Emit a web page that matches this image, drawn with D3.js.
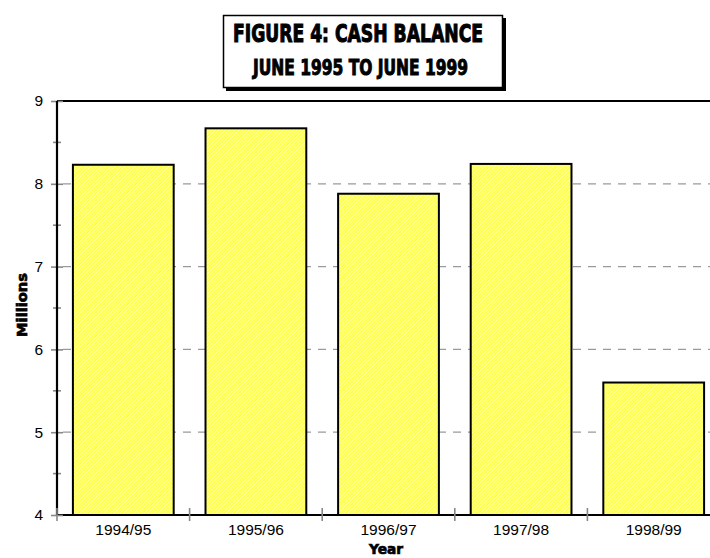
<!DOCTYPE html>
<html>
<head>
<meta charset="utf-8">
<script src="https://cdn.jsdelivr.net/npm/d3@7"></script>
<style>
  body { margin: 0; background: #fff; }
</style>
</head>
<body>
<div class="chart"></div>
<script>
    /* data */
    const years = ["1994/95", "1995/96", "1996/97", "1997/98", "1998/99"];
    const cash = [8.23, 8.67, 7.88, 8.24, 5.60];
    const yTicks = [4, 5, 6, 7, 8, 9];
    const yMinor = [4.5, 5.5, 6.5, 7.5, 8.5];

    let margin = {top: 101, bottom: 43, left: 57, right: -10};
    const width = 710 - margin.left - margin.right,
    height = 558 - margin.top - margin.bottom;

    const root = d3.select(".chart").append("svg")
    .attr("width", 710)
    .attr("height", 558);

    /* hatched yellow fill */
    const pat = root.append("defs").append("pattern")
    .attr("id", "hatch")
    .attr("patternUnits", "userSpaceOnUse")
    .attr("width", 2.4).attr("height", 2.4)
    .attr("patternTransform", "rotate(45)");
    pat.append("rect").attr("width", 2.4).attr("height", 2.4).attr("fill", "#ffff40");
    pat.append("rect").attr("width", 1).attr("height", 2.4).attr("fill", "#ffffa0");

    /* title box */
    const tb = root.append("g");
    tb.append("rect")
    .attr("x", 226).attr("y", 18).attr("width", 280).attr("height", 73)
    .attr("fill", "#000");
    tb.append("rect")
    .attr("x", 223.5).attr("y", 15.5).attr("width", 279).attr("height", 72)
    .attr("fill", "#fff").attr("stroke", "#000").attr("stroke-width", 1.5);
    tb.append("text")
    .attr("x", 233).attr("y", 42)
    .attr("textLength", 250).attr("lengthAdjust", "spacingAndGlyphs")
    .style("font-family", "'DejaVu Sans Condensed', 'DejaVu Sans', sans-serif")
    .style("font-weight", "bold").style("font-size", "24px")
    .attr("stroke", "#000").attr("stroke-width", 1)
    .text("FIGURE 4: CASH BALANCE");
    tb.append("text")
    .attr("x", 253).attr("y", 75)
    .attr("textLength", 215).attr("lengthAdjust", "spacingAndGlyphs")
    .style("font-family", "'DejaVu Sans Condensed', 'DejaVu Sans', sans-serif")
    .style("font-weight", "bold").style("font-size", "21px")
    .attr("stroke", "#000").attr("stroke-width", 0.9)
    .text("JUNE 1995 TO JUNE 1999");

    const svg = root.append("g")
    .attr("transform", "translate(" + margin.left + "," + margin.top + ")");

    /* scales */
    const xScale = d3.scaleBand().range([0, width])
    .domain(years)
    .paddingInner(0.24)
    .paddingOuter(0.12);

    const yScale = d3.scaleLinear().range([height, 0])
    .domain([4, 9]);

    /* dashed grid */
    svg.selectAll(".grid")
    .data(yTicks.filter(d => d > 4 && d < 9))
    .enter().append("line")
    .attr("class", "grid")
    .attr("x1", 6).attr("x2", width)
    .attr("y1", d => yScale(d)).attr("y2", d => yScale(d))
    .attr("stroke", "#9a9a9a").attr("stroke-width", 1.2)
    .attr("stroke-dasharray", "8,7");

    /* frame lines */
    svg.append("line")
    .attr("x1", 0).attr("x2", width).attr("y1", 0).attr("y2", 0)
    .attr("stroke", "#000").attr("stroke-width", 2);
    svg.append("line")
    .attr("x1", 0).attr("x2", width).attr("y1", height).attr("y2", height)
    .attr("stroke", "#000").attr("stroke-width", 2);

    /* bars */
    svg.selectAll("rect.bar")
    .data(cash)
    .enter().append("rect")
    .attr("class", "bar")
    .attr("x", (d, i) => xScale(years[i]))
    .attr("y", d => yScale(d))
    .attr("width", xScale.bandwidth())
    .attr("height", d => height - yScale(d))
    .attr("fill", "url(#hatch)")
    .attr("stroke", "#000")
    .attr("stroke-width", 2);

    /* y axis */
    const yAxis = d3.axisLeft(yScale).tickValues(yTicks)
    .tickFormat(d3.format("d")).tickSize(6).tickPadding(8);
    const ya = svg.append("g").attr("class", "axis-y-axis").call(yAxis);
    ya.select(".domain").remove();
    ya.selectAll(".tick line")
    .attr("x1", -6).attr("x2", 6)
    .attr("stroke", "#888").attr("stroke-width", 1.6);
    ya.selectAll(".tick text")
    .style("font-family", "'Liberation Sans', Arial, sans-serif")
    .style("font-size", "15.5px").attr("fill", "#000");

    svg.selectAll(".minor")
    .data(yMinor)
    .enter().append("line")
    .attr("class", "minor")
    .attr("x1", -4).attr("x2", 4)
    .attr("y1", d => yScale(d)).attr("y2", d => yScale(d))
    .attr("stroke", "#888").attr("stroke-width", 1.6);

    svg.append("line")
    .attr("x1", 0).attr("x2", 0).attr("y1", 0).attr("y2", height)
    .attr("stroke", "#000").attr("stroke-width", 2.2);

    /* category separators */
    const step = xScale.step();
    svg.selectAll(".sep")
    .data(years)
    .enter().append("line")
    .attr("class", "sep")
    .attr("x1", d => xScale(d) - xScale.paddingOuter() * step)
    .attr("x2", d => xScale(d) - xScale.paddingOuter() * step)
    .attr("y1", height - 7).attr("y2", height + 6)
    .attr("stroke", "#888").attr("stroke-width", 1.6);

    /* x axis labels */
    const xAxis = d3.axisBottom(xScale).tickSize(0).tickPadding(9);
    const xa = svg.append("g")
    .attr("class", "axis-x-axis")
    .attr("transform", `translate(0, ${height})`)
    .call(xAxis);
    xa.select(".domain").remove();
    xa.selectAll(".tick text")
    .style("font-family", "'Liberation Sans', Arial, sans-serif")
    .style("font-size", "15.5px").attr("fill", "#000");

    /* axis titles */
    root.append("text")
    .attr("transform", "translate(27,305) rotate(-90)")
    .attr("text-anchor", "middle")
    .attr("textLength", 64).attr("lengthAdjust", "spacingAndGlyphs")
    .style("font-family", "'DejaVu Sans', sans-serif")
    .style("font-weight", "bold").style("font-size", "14px")
    .attr("stroke", "#000").attr("stroke-width", 0.7)
    .text("Millions");

    root.append("text")
    .attr("x", 386).attr("y", 554)
    .attr("text-anchor", "middle")
    .attr("textLength", 34).attr("lengthAdjust", "spacingAndGlyphs")
    .style("font-family", "'DejaVu Sans', sans-serif")
    .style("font-weight", "bold").style("font-size", "14px")
    .attr("stroke", "#000").attr("stroke-width", 0.7)
    .text("Year");
</script>
</body>
</html>
